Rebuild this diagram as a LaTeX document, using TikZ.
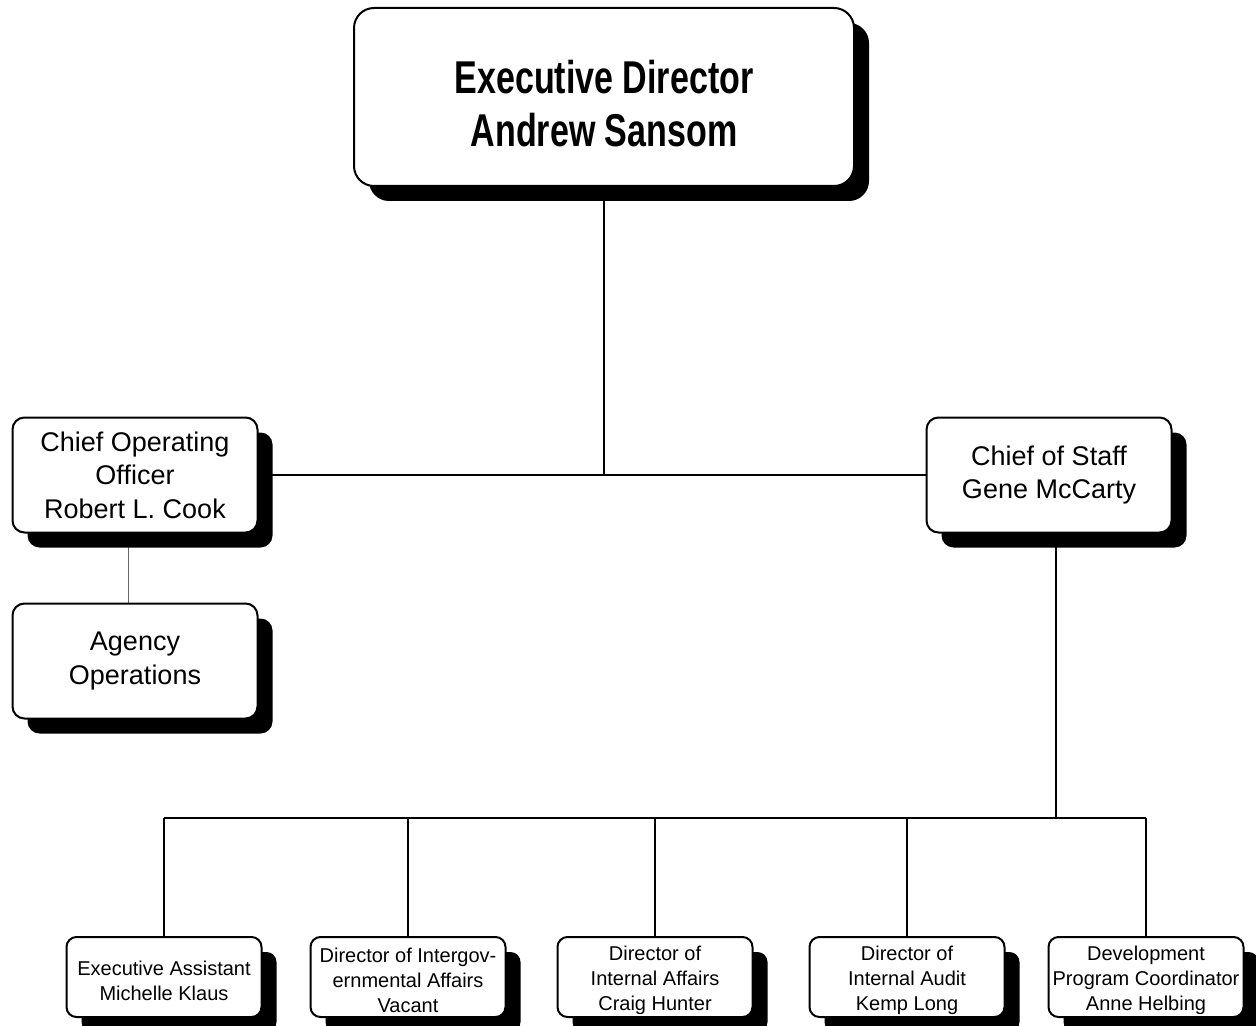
\documentclass[tikz,border=0pt]{standalone}
\usepackage{fontspec}
\setmainfont{Liberation Sans}
\newfontfamily\headfont[FakeStretch=0.74]{Liberation Sans}
\usetikzlibrary{shadows,backgrounds}

\begin{document}
\begin{tikzpicture}[x=0.5pt,y=-0.5pt,
  orgbox/.style={draw=black, line width=1pt, fill=white, align=center, inner sep=0pt,
    drop shadow={shadow xshift=7.5pt, shadow yshift=-7.5pt, fill=black, opacity=1}},
  topbox/.style={orgbox, rounded corners=10pt, minimum width=250pt, minimum height=89pt,
    font=\headfont\bfseries\fontsize{23}{26.5}\selectfont},
  midbox/.style={orgbox, rounded corners=6pt, minimum width=122.5pt, minimum height=57.5pt,
    font=\fontsize{13.5}{16.75}\selectfont},
  lowbox/.style={orgbox, rounded corners=5pt, minimum width=97.5pt, minimum height=40pt,
    font=\fontsize{10}{12.5}\selectfont},
  link/.style={line width=1pt},
  sublink/.style={line width=0.75pt}]
  \useasboundingbox (0,0) rectangle (1256,1026);
  \clip (0,0) rectangle (1256,1026);

  % Director
  \node[topbox] (director) at (604,97) {\rule{0pt}{23pt}Executive Director\\Andrew Sansom};

  % Second level
  \node[midbox] (coo) at (135,475) {Chief Operating\\Officer\\Robert L. Cook};
  \node[midbox] (staff) at (1049,475) {Chief of Staff\\Gene McCarty};
  \node[midbox] (agency) at (135,661) {Agency\\Operations};

  % Staff offices
  \node[lowbox] (assistant) at (164,977) {\rule{0pt}{11pt}Executive Assistant\\Michelle Klaus};
  \node[lowbox] (intergov) at (408,977) {\rule{0pt}{11pt}Director of Intergov-\\ernmental Affairs\\Vacant};
  \node[lowbox] (affairs) at (655,977) {\rule{0pt}{11pt}Director of\\Internal Affairs\\Craig Hunter};
  \node[lowbox] (audit) at (907,977) {\rule{0pt}{11pt}Director of\\Internal Audit\\Kemp Long};
  \node[lowbox] (develop) at (1146,977) {\rule{0pt}{11pt}Development\\Program Coordinator\\Anne Helbing};

  \coordinate (junction) at (604,475);
  \coordinate (bus) at (1056,818);

  % Connectors behind the boxes
  \begin{scope}[on background layer]
    \draw[link] (director.south) -- (junction);
    \draw[link] (coo.east) -- (staff.west);
    \draw[line width=0.5pt, black!60] ([xshift=-3.5pt]coo.south) -- ([xshift=-3.5pt]agency.north);
    \draw[link] (staff.south -| bus) -- (bus);
    \draw[link] (assistant.north |- bus) -- (develop.north |- bus);
    \foreach \b in {assistant,intergov,affairs,audit,develop}
      \draw[sublink] (\b.north |- bus) -- (\b.north);
  \end{scope}
\end{tikzpicture}
\end{document}
